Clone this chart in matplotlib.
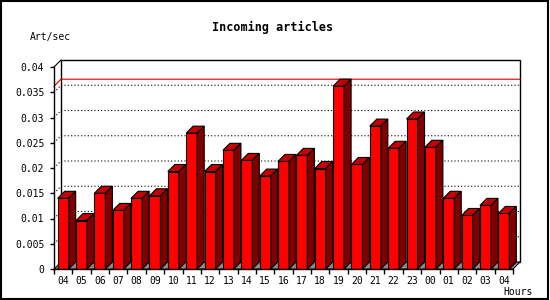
import numpy as np
import matplotlib
matplotlib.use('Agg')
import matplotlib.pyplot as plt
from matplotlib.patches import Polygon, Rectangle

# hourly article rate
hours = ['04', '05', '06', '07', '08', '09', '10', '11', '12', '13', '14', '15', '16',
         '17', '18', '19', '20', '21', '22', '23', '00', '01', '02', '03', '04']
rate = [0.0140, 0.0096, 0.0150, 0.0116, 0.0140, 0.0145, 0.0193, 0.0269, 0.0193,
        0.0235, 0.0215, 0.0184, 0.0213, 0.0225, 0.0199, 0.0362, 0.0207, 0.0283,
        0.0239, 0.0297, 0.0241, 0.0140, 0.0106, 0.0126, 0.0110]
yticks = [0, 0.005, 0.01, 0.015, 0.02, 0.025, 0.03, 0.035, 0.04]

plt.rcParams['font.family'] = 'DejaVu Sans Mono'

fig = plt.figure(figsize=(5.5, 3), dpi=100)
fig.patch.set_facecolor('white')
ax = fig.add_axes([54/550, 31/300, 459/550, 202/300])
n = len(rate)
ax.set_xlim(-0.5, n - 0.5)
ax.set_ylim(0, 0.04)
ax.set_facecolor('none')

# 3d depth, 7 px each way
dx = 7 / (459 / n)
dy = 7 / (202 / 0.04)
x0, x1 = -0.5, n - 0.5

# back wall
ax.add_patch(Rectangle((x0 + dx, dy), x1 - x0, 0.04, facecolor='white',
                       edgecolor='black', lw=1, clip_on=False, zorder=0.5))
ax.plot([x0, x0 + dx], [0.04, 0.04 + dy], color='black', lw=0.8, clip_on=False, zorder=0.6)

# grid lines on the back wall
for v in yticks[1:-1]:
    ax.plot([x0, x0 + dx, x1 + dx], [v, v + dy, v + dy], color='black', lw=0.8,
            linestyle=(0, (1, 2)), clip_on=False, zorder=0.7)

# max line
m = max(rate)
ax.plot([x0, x0 + dx, x1 + dx], [m, m + dy, m + dy], color='#d00000', lw=0.8,
        clip_on=False, zorder=0.8)

# floor
ax.add_patch(Polygon([(x0, 0), (x1, 0), (x1 + dx, dy), (x0 + dx, dy)], closed=True,
                     facecolor='#8c8c8c', edgecolor='black', lw=0.7, clip_on=False, zorder=0.9))

w = 0.6
xs = np.arange(n)
ax.bar(xs, rate, width=w, color='#ff0000', edgecolor='black', lw=0.8, zorder=3)
for i, v in enumerate(rate):
    l, r = i - w/2, i + w/2
    ax.add_patch(Polygon([(l, v), (r, v), (r + dx, v + dy), (l + dx, v + dy)], closed=True,
                         facecolor='#c40000', edgecolor='black', lw=0.8, clip_on=False, zorder=3))
    ax.add_patch(Polygon([(r, 0), (r + dx, dy), (r + dx, v + dy), (r, v)], closed=True,
                         facecolor='#800000', edgecolor='black', lw=0.8, clip_on=False, zorder=3))

for s in ['top', 'right']:
    ax.spines[s].set_visible(False)
for s in ['left', 'bottom']:
    ax.spines[s].set_linewidth(1)
    ax.spines[s].set_zorder(4)

ax.set_yticks(yticks)
ax.set_yticklabels(['%g' % t for t in yticks])
ax.tick_params(axis='y', direction='out', length=3, width=1, pad=4, labelsize=7)
ax.set_xticks(xs)
ax.set_xticklabels(hours)
ax.set_xticks(np.arange(n + 1) - 0.5, minor=True)
ax.tick_params(axis='x', which='major', length=0, pad=5, labelsize=7)
ax.tick_params(axis='x', which='minor', direction='out', length=3.5, width=1)

fig.text(273/550, 1 - 27/300, 'Incoming articles', ha='center', va='center',
         fontsize=8.5, fontweight='bold')
fig.text(30/550, 1 - 37/300, 'Art/sec', ha='left', va='center', fontsize=7)
fig.text(503/550, 1 - 292/300, 'Hours', ha='left', va='center', fontsize=7)

# outer frame
fig.patches.append(Rectangle((1/550, 1/300), 547/550, 298/300, transform=fig.transFigure,
                             facecolor='none', edgecolor='black', lw=1.5))

fig.savefig('out.png', dpi=100)
